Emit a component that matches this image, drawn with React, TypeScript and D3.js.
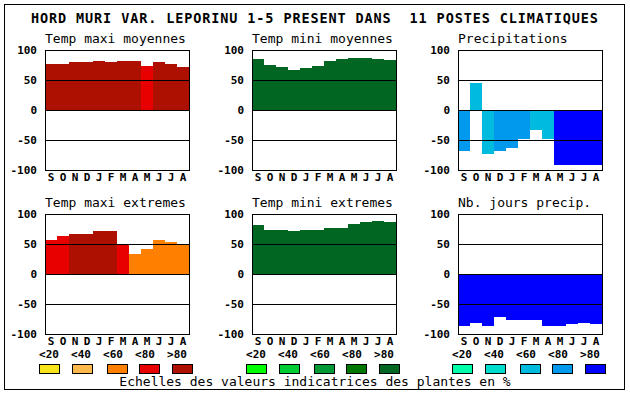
import React from "react";
import * as d3 from "d3";

const title = "HORD MURI VAR. LEPORINU 1-5 PRESENT DANS  11 POSTES CLIMATIQUES";
const months = ["S", "O", "N", "D", "J", "F", "M", "A", "M", "J", "J", "A"];
const yTicks = [100, 50, 0, -50, -100];
const gridValues = [50, 0, -50];
const legendLabels = ["<20", "<40", "<60", "<80", ">80"];

const redPalette = ["#F8E41A", "#FFB84C", "#FF8000", "#E80000", "#AD1000"];
const greenPalette = ["#00FF00", "#00CC33", "#009933", "#007700", "#006622"];
const bluePalette = ["#00FFAA", "#00DDCC", "#00BBDD", "#0099EE", "#0000FF"];

const tmaxMoy = [77, 77, 80, 80, 82, 80, 82, 82, 73, 80, 77, 72];
const tmaxMoyClass = [4, 4, 4, 4, 4, 4, 4, 4, 3, 4, 4, 4];
const tminMoy = [85, 75, 72, 67, 70, 73, 82, 85, 87, 87, 85, 83];
const tminMoyClass = [4, 4, 4, 4, 4, 4, 4, 4, 4, 4, 4, 4];
const precip = [-68, 45, -74, -68, -63, -48, -33, -48, -91, -91, -91, -91];
const precipClass = [3, 2, 2, 3, 3, 3, 2, 2, 4, 4, 4, 4];
const tmaxExt = [57, 64, 67, 67, 72, 71, 49, 34, 41, 56, 54, 49];
const tmaxExtClass = [3, 3, 4, 4, 4, 4, 3, 2, 2, 2, 2, 2];
const tminExt = [82, 74, 73, 71, 73, 74, 76, 76, 83, 86, 88, 86];
const tminExtClass = [4, 4, 4, 4, 4, 4, 4, 4, 4, 4, 4, 4];
const nbJours = [-87, -81, -87, -71, -76, -77, -76, -87, -86, -84, -82, -84];
const nbJoursClass = [4, 4, 4, 4, 4, 4, 4, 4, 4, 4, 4, 4];

const FONT = "'DejaVu Sans Mono', monospace";
const PW = 144;
const PH = 120;

type PanelProps = {
  left: number;
  top: number;
  label: string;
  values: number[];
  classes: number[];
  palette: string[];
  legend: boolean;
};

function Panel({ left, top, label, values, classes, palette, legend }: PanelProps) {
  const x = d3.scaleBand<number>().domain(d3.range(values.length)).range([0, PW]).padding(0);
  const y = d3.scaleLinear().domain([-100, 100]).range([PH, 0]);
  const legendLabelOffsets = [4, 36, 68, 100, 132];
  const legendBoxOffsets = [4, 36.5, 72, 104, 136.5];
  return (
    <g transform={`translate(${left},${top})`}>
      <text x={0} y={-7} fontFamily={FONT} fontSize={13} fill="#000">
        {label}
      </text>
      {values.map((v, i) => (
        <rect
          key={i}
          x={x(i)!}
          width={x.bandwidth()}
          y={y(Math.max(0, v))}
          height={Math.abs(y(v) - y(0))}
          fill={palette[classes[i]]}
          shapeRendering="crispEdges"
        />
      ))}
      {gridValues.map((g) => (
        <line
          key={g}
          x1={0}
          x2={PW}
          y1={Math.round(y(g)) + 0.5}
          y2={Math.round(y(g)) + 0.5}
          stroke="#000"
          strokeWidth={1}
          shapeRendering="crispEdges"
        />
      ))}
      <rect x={0.5} y={0.5} width={PW} height={PH} fill="none" stroke="#000" strokeWidth={1} shapeRendering="crispEdges" />
      {yTicks.map((t) => (
        <text
          key={t}
          x={-8}
          y={y(t) + 0.5}
          textAnchor="end"
          dominantBaseline="central"
          fontFamily={FONT}
          fontSize={11}
          fontWeight="bold"
          fill="#000"
        >
          {t}
        </text>
      ))}
      {months.map((m, i) => (
        <text
          key={i}
          x={x(i)! + x.bandwidth() / 2}
          y={PH + 11}
          textAnchor="middle"
          fontFamily={FONT}
          fontSize={11}
          fontWeight="bold"
          fill="#000"
        >
          {m}
        </text>
      ))}
      {legend &&
        legendLabels.map((l, i) => (
          <g key={l}>
            <text
              x={legendLabelOffsets[i]}
              y={PH + 23.5}
              textAnchor="middle"
              fontFamily={FONT}
              fontSize={11}
              fontWeight="bold"
              fill="#000"
            >
              {l}
            </text>
            <rect
              x={Math.round(legendBoxOffsets[i] - 10) + 0.5}
              y={30 + PH + 0.5}
              width={20}
              height={9}
              fill={palette[i]}
              stroke="#000"
              strokeWidth={1}
              shapeRendering="crispEdges"
            />
          </g>
        ))}
    </g>
  );
}

export default function App() {
  const lefts = [45, 252, 458];
  const tops = [50, 214];
  return (
    <svg
      width={630}
      height={394}
      style={{ position: "absolute", left: 0, top: 0, background: "#fff" }}
    >
      <rect x={0} y={0} width={630} height={394} fill="#fff" />
      <rect x={4.5} y={4.5} width={620} height={385} fill="none" stroke="#000" strokeWidth={1} shapeRendering="crispEdges" />
      <text
        x={31}
        y={23}
        fontFamily={FONT}
        fontSize={13.5}
        fontWeight="bold"
        textLength={567}
        lengthAdjust="spacing"
        fill="#000"
        style={{ whiteSpace: "pre" }}
      >
        {title}
      </text>
      <Panel left={lefts[0]} top={tops[0]} label="Temp maxi moyennes" values={tmaxMoy} classes={tmaxMoyClass} palette={redPalette} legend={false} />
      <Panel left={lefts[1]} top={tops[0]} label="Temp mini moyennes" values={tminMoy} classes={tminMoyClass} palette={greenPalette} legend={false} />
      <Panel left={lefts[2]} top={tops[0]} label="Precipitations" values={precip} classes={precipClass} palette={bluePalette} legend={false} />
      <Panel left={lefts[0]} top={tops[1]} label="Temp maxi extremes" values={tmaxExt} classes={tmaxExtClass} palette={redPalette} legend={true} />
      <Panel left={lefts[1]} top={tops[1]} label="Temp mini extremes" values={tminExt} classes={tminExtClass} palette={greenPalette} legend={true} />
      <Panel left={lefts[2]} top={tops[1]} label="Nb. jours precip." values={nbJours} classes={nbJoursClass} palette={bluePalette} legend={true} />
      <text x={315} y={386} textAnchor="middle" fontFamily={FONT} fontSize={13} fill="#000">
        Echelles des valeurs indicatrices des plantes en %
      </text>
    </svg>
  );
}
